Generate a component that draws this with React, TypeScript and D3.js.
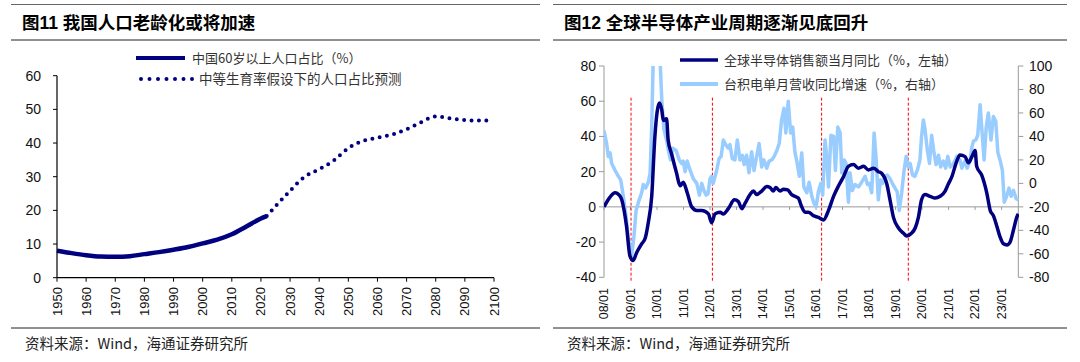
import React from 'react';
import * as d3 from 'd3';

// ---- Figure 11: share of population aged 60+ (%) ----
const popYears = [1950, 1955, 1960, 1965, 1970, 1975, 1980, 1985, 1990, 1995, 2000, 2005, 2010, 2015, 2020, 2022];
const popShare = [8.0, 7.3, 6.7, 6.3, 6.2, 6.4, 7.0, 7.6, 8.3, 9.1, 10.2, 11.3, 12.9, 15.2, 17.6, 18.3];
const projYears = [2022, 2025, 2030, 2035, 2040, 2045, 2050, 2055, 2060, 2065, 2070, 2075, 2080, 2085, 2090, 2095, 2099];
const projShare = [18.3, 21.2, 25.8, 30.0, 32.2, 34.8, 38.5, 40.6, 41.6, 42.5, 44.1, 46.2, 47.9, 47.3, 46.8, 46.7, 46.7];
const popYTicks = [0, 10, 20, 30, 40, 50, 60];
const popXTicks = [1950, 1960, 1970, 1980, 1990, 2000, 2010, 2020, 2030, 2040, 2050, 2060, 2070, 2080, 2090, 2100];

// ---- Figure 12: semiconductor cycle ----
// [decimal year, %]
const semiSales: [number, number][] = [
  [2008.0, 0], [2008.2, 5], [2008.42, 8], [2008.55, 7], [2008.67, 4], [2008.85, -11], [2008.98, -28],
  [2009.1, -30.5], [2009.23, -26], [2009.42, -21], [2009.55, -18], [2009.67, -9], [2009.8, 6], [2009.92, 40],
  [2010.09, 59], [2010.18, 55], [2010.24, 49], [2010.36, 50], [2010.42, 38], [2010.55, 30], [2010.74, 19],
  [2010.87, 12], [2010.99, 14], [2011.14, 8], [2011.31, 0], [2011.5, -2], [2011.69, -2], [2011.94, -4],
  [2012.06, -9], [2012.19, -4], [2012.38, -3], [2012.5, -4], [2012.69, -1], [2012.92, 4], [2013.07, 3],
  [2013.2, -1], [2013.32, 2], [2013.51, 7], [2013.64, 9], [2013.76, 7], [2013.95, 9], [2014.14, 11.5],
  [2014.26, 11], [2014.39, 9], [2014.48, 11], [2014.64, 9], [2014.77, 10], [2014.93, 9.6], [2015.08, 7],
  [2015.2, 6], [2015.33, 5], [2015.46, 0], [2015.58, -3], [2015.71, -3], [2015.9, -5], [2016.09, -6],
  [2016.28, -7.4], [2016.47, -2], [2016.66, 6], [2016.85, 12], [2017.03, 17], [2017.22, 23], [2017.41, 24],
  [2017.6, 22], [2017.79, 23], [2017.98, 21], [2018.17, 22], [2018.35, 20], [2018.48, 19], [2018.67, 13],
  [2018.79, 4], [2018.92, -6], [2019.11, -12], [2019.3, -15], [2019.42, -16.5], [2019.6, -15], [2019.74, -12],
  [2019.86, -6], [2019.98, 4], [2020.11, 7], [2020.3, 6], [2020.49, 5], [2020.68, 6], [2020.87, 9],
  [2020.99, 13], [2021.12, 17], [2021.31, 26], [2021.43, 29.5], [2021.62, 28.5], [2021.75, 25], [2021.88, 28.5],
  [2022.0, 32], [2022.06, 23], [2022.25, 18], [2022.44, 8], [2022.57, -2], [2022.69, -5], [2022.82, -11],
  [2022.94, -17], [2023.07, -21], [2023.2, -21.6], [2023.32, -20], [2023.45, -13], [2023.57, -6], [2023.63, -4],
];
const tsmcRev: [number, number][] = [
  [2008.0, 45], [2008.1, 34], [2008.16, 23], [2008.23, 26], [2008.29, 17], [2008.42, 11], [2008.54, 6],
  [2008.63, 3], [2008.73, -11], [2008.83, -28], [2008.92, -48], [2009.04, -62], [2009.13, -45], [2009.21, -23],
  [2009.3, -16], [2009.42, -8], [2009.48, -1], [2009.57, -4], [2009.67, 1], [2009.74, 9], [2009.8, 48],
  [2009.9, 150], [2010.05, 140], [2010.18, 71], [2010.26, 46], [2010.36, 37], [2010.45, 26], [2010.51, 20],
  [2010.59, 30], [2010.72, 28], [2010.84, 20], [2010.93, 17], [2010.99, 19], [2011.06, 10], [2011.14, 19],
  [2011.25, 11], [2011.37, 4], [2011.5, 0], [2011.6, -10], [2011.69, 0], [2011.77, -6], [2011.85, -10],
  [2011.92, -9], [2012.0, 4], [2012.06, 6], [2012.12, 0], [2012.25, 11], [2012.34, 21], [2012.42, 23],
  [2012.5, 37], [2012.59, 33], [2012.69, 30], [2012.75, 33], [2012.84, 21], [2012.94, 20], [2013.03, 37],
  [2013.13, 20], [2013.22, 24], [2013.29, 16], [2013.38, 24], [2013.47, 9], [2013.57, 27], [2013.66, 11],
  [2013.76, 23], [2013.85, 34], [2013.95, 14], [2014.03, 20], [2014.14, 13], [2014.23, 19], [2014.33, 20],
  [2014.42, 23], [2014.52, 28], [2014.61, 34], [2014.7, 54], [2014.79, 64], [2014.86, 43], [2014.95, 70],
  [2015.04, 43], [2015.12, 48], [2015.2, 27], [2015.29, 17], [2015.37, 6], [2015.46, 26], [2015.54, -3],
  [2015.65, -8], [2015.74, 1], [2015.84, -11], [2015.92, -17], [2016.0, -20], [2016.09, -7], [2016.18, 0],
  [2016.25, -10], [2016.34, 37], [2016.4, 23], [2016.47, -3], [2016.56, 41], [2016.66, 40], [2016.73, 11],
  [2016.82, 48], [2016.91, 43], [2016.97, 9], [2017.06, 20], [2017.13, 17], [2017.22, -16], [2017.28, 9],
  [2017.37, -6], [2017.47, -1], [2017.6, -3], [2017.72, 1], [2017.85, 6], [2017.94, -1], [2018.01, 0],
  [2018.1, -8], [2018.19, 43], [2018.26, 23], [2018.35, -14], [2018.43, 3], [2018.51, 0], [2018.6, 6],
  [2018.69, 7], [2018.79, 4], [2018.88, 0], [2018.98, -4], [2019.06, -7], [2019.14, -23], [2019.23, -8],
  [2019.32, 11], [2019.4, 23], [2019.48, 14], [2019.55, 17], [2019.64, 7], [2019.73, 6], [2019.83, 12],
  [2019.92, 20], [2019.98, 40], [2020.05, 54], [2020.11, 46], [2020.2, 28], [2020.28, 17], [2020.36, 41],
  [2020.45, 26], [2020.53, 16], [2020.62, 24], [2020.7, 14], [2020.8, 19], [2020.89, 13], [2020.97, 23],
  [2021.06, 14], [2021.19, 17], [2021.31, 23], [2021.43, 20], [2021.5, 13], [2021.62, 19], [2021.7, 13],
  [2021.81, 19], [2021.88, 31], [2021.94, 36], [2022.03, 37], [2022.1, 41], [2022.19, 67], [2022.25, 48],
  [2022.34, 20], [2022.42, 48], [2022.5, 60], [2022.6, 37], [2022.69, 57], [2022.78, 53], [2022.86, 26],
  [2022.94, 20], [2023.03, 11], [2023.1, -16], [2023.19, -11], [2023.28, -4], [2023.36, -11], [2023.45, -6],
  [2023.55, -13], [2023.63, -14],
];
const cycleTroughs = [2009.02, 2012.09, 2016.21, 2019.48];
const semiXTicks = ['08/01', '09/01', '10/01', '11/01', '12/01', '13/01', '14/01', '15/01', '16/01', '17/01', '18/01', '19/01', '20/01', '21/01', '22/01', '23/01'];
const semiLeftTicks = [-40, -20, 0, 20, 40, 60, 80];
const semiRightTicks = [-80, -60, -40, -20, 0, 20, 40, 60, 80, 100];

const NAVY = '#000080';
const LIGHT = '#99CCFF';
const CJK = '"Noto Sans CJK SC", "Liberation Sans", sans-serif';
const NUM = '"Liberation Sans", Arial, sans-serif';
const TITLE = '"Liberation Sans", "Noto Sans CJK SC", sans-serif';

const Frame = ({ x0, x1, title, source }: { x0: number; x1: number; title: string; source: string }) => (
  <g>
    <line x1={x0} x2={x1} y1={4.5} y2={4.5} stroke="#666" strokeWidth={1} />
    <text x={x0 + 11} y={29} fontFamily={TITLE} fontWeight="bold" fontSize={17.5} fill="#000">{title}</text>
    <line x1={x0} x2={x1} y1={40} y2={40} stroke="#222" strokeWidth={1} />
    <line x1={x0} x2={x1} y1={328} y2={328} stroke="#222" strokeWidth={1} />
    <text x={x0 + 14} y={349} fontFamily={CJK} fontSize={14.5} fill="#222">{source}</text>
  </g>
);

const PopChart = () => {
  const x = d3.scaleLinear().domain([1950, 2100]).range([57, 494]);
  const y = d3.scaleLinear().domain([0, 60]).range([277.7, 75.7]);
  const line = d3.line<number>().x((_, i) => x(popYears[i])).y((d) => y(d)).curve(d3.curveMonotoneX);
  const proj = d3.line<number>().x((_, i) => x(projYears[i])).y((d) => y(d)).curve(d3.curveMonotoneX);
  return (
    <g>
      {/* legend */}
      <line x1={136} x2={185} y1={58} y2={58} stroke={NAVY} strokeWidth={4} />
      <text x={192} y={58} dy="0.35em" fontFamily={CJK} fontSize={13} fill="#333">中国60岁以上人口占比（%）</text>
      <line x1={141} x2={193} y1={79} y2={79} stroke={NAVY} strokeWidth={4} strokeDasharray="0 8.5" strokeLinecap="round" />
      <text x={199} y={79} dy="0.35em" fontFamily={CJK} fontSize={13.5} fill="#333">中等生育率假设下的人口占比预测</text>

      <path d={line(popShare) || ''} fill="none" stroke={NAVY} strokeWidth={4.5} />
      <path d={proj(projShare) || ''} fill="none" stroke={NAVY} strokeWidth={4} strokeDasharray="0 7.4" strokeLinecap="round" />

      {/* axes */}
      <line x1={x(1950)} x2={x(1950)} y1={y(60)} y2={y(0)} stroke="#000" strokeWidth={1.2} />
      <line x1={x(1950)} x2={x(2100)} y1={y(0)} y2={y(0)} stroke="#000" strokeWidth={1.2} />
      {popYTicks.map((t) => (
        <g key={t}>
          <line x1={x(1950) - 4} x2={x(1950)} y1={y(t)} y2={y(t)} stroke="#000" />
          <text x={41} y={y(t)} dy="0.35em" textAnchor="end" fontFamily={NUM} fontSize={14} fill="#111">{t}</text>
        </g>
      ))}
      {popXTicks.map((t) => (
        <g key={t}>
          <line x1={x(t)} x2={x(t)} y1={y(0)} y2={y(0) + 4} stroke="#000" />
          <text transform={`translate(${x(t)},${287}) rotate(-90)`} dy="0.35em" textAnchor="end" fontFamily={NUM} fontSize={13} fill="#111">{t}</text>
        </g>
      ))}
    </g>
  );
};

const SemiChart = () => {
  const x = d3.scaleLinear().domain([2008, 2023.63]).range([604, 1018.3]);
  const yL = d3.scaleLinear().domain([-40, 80]).range([277.3, 66]);
  const yR = d3.scaleLinear().domain([-80, 100]).range([277.3, 66]);
  const salesLine = d3.line<[number, number]>().x((d) => x(d[0])).y((d) => yL(d[1])).curve(d3.curveMonotoneX);
  const tsmcLine = d3.line<[number, number]>().x((d) => x(d[0])).y((d) => yR(d[1]));
  const axisCol = '#9a9a9a';
  return (
    <g>
      <defs>
        <clipPath id="semiClip">
          <rect x={604} y={66} width={415} height={212} />
        </clipPath>
      </defs>
      {/* zero line with ticks */}
      <line x1={x(2008)} x2={x(2023.63)} y1={yL(0)} y2={yL(0)} stroke={axisCol} strokeWidth={1} />
      {semiXTicks.map((lab) => {
        const t = 2000 + +lab.slice(0, 2);
        return (
          <g key={lab}>
            <line x1={x(t)} x2={x(t)} y1={yL(0)} y2={yL(0) + 3} stroke={axisCol} />
            <text transform={`translate(${x(t)},${288}) rotate(-90)`} dy="0.35em" textAnchor="end" fontFamily={NUM} fontSize={12.5} fill="#111">{lab}</text>
          </g>
        );
      })}
      {/* left axis */}
      <line x1={604} x2={604} y1={yL(80)} y2={yL(-40)} stroke={axisCol} />
      {semiLeftTicks.map((t) => (
        <g key={t}>
          <line x1={599} x2={604} y1={yL(t)} y2={yL(t)} stroke={axisCol} />
          <text x={596} y={yL(t)} dy="0.35em" textAnchor="end" fontFamily={NUM} fontSize={14} fill="#111">{t}</text>
        </g>
      ))}
      {/* right axis */}
      <line x1={1018.3} x2={1018.3} y1={yR(100)} y2={yR(-80)} stroke={axisCol} />
      {semiRightTicks.map((t) => (
        <g key={t}>
          <line x1={1018.3} x2={1023.3} y1={yR(t)} y2={yR(t)} stroke={axisCol} />
          <text x={1029} y={yR(t)} dy="0.35em" fontFamily={NUM} fontSize={14} fill="#111">{t}</text>
        </g>
      ))}
      {/* cycle troughs */}
      {cycleTroughs.map((t) => (
        <line key={t} x1={x(t)} x2={x(t)} y1={yL(62)} y2={yL(-43)} stroke="#ff0000" strokeWidth={1} strokeDasharray="3 2" />
      ))}
      <g clipPath="url(#semiClip)">
        <path d={tsmcLine(tsmcRev) || ''} fill="none" stroke={LIGHT} strokeWidth={3.5} strokeLinejoin="round" />
        <path d={salesLine(semiSales) || ''} fill="none" stroke={NAVY} strokeWidth={3.5} strokeLinejoin="round" />
      </g>
      {/* legend */}
      <line x1={680} x2={718} y1={60} y2={60} stroke={NAVY} strokeWidth={3.5} />
      <text x={724} y={60} dy="0.35em" fontFamily={CJK} fontSize={13} fill="#333">全球半导体销售额当月同比（%，左轴）</text>
      <line x1={680} x2={718} y1={84} y2={84} stroke={LIGHT} strokeWidth={4} />
      <text x={724} y={84} dy="0.35em" fontFamily={CJK} fontSize={13} fill="#333">台积电单月营收同比增速（%，右轴）</text>
    </g>
  );
};

export default function App() {
  return (
    <svg width={1080} height={362} style={{ position: 'absolute', left: 0, top: 0, background: '#fff' }}>
      <rect width={1080} height={362} fill="#fff" />
      <Frame x0={11} x1={540} title="图11 我国人口老龄化或将加速" source="资料来源：Wind，海通证券研究所" />
      <Frame x0={553} x1={1067} title="图12 全球半导体产业周期逐渐见底回升" source="资料来源：Wind，海通证券研究所" />
      <PopChart />
      <SemiChart />
    </svg>
  );
}
